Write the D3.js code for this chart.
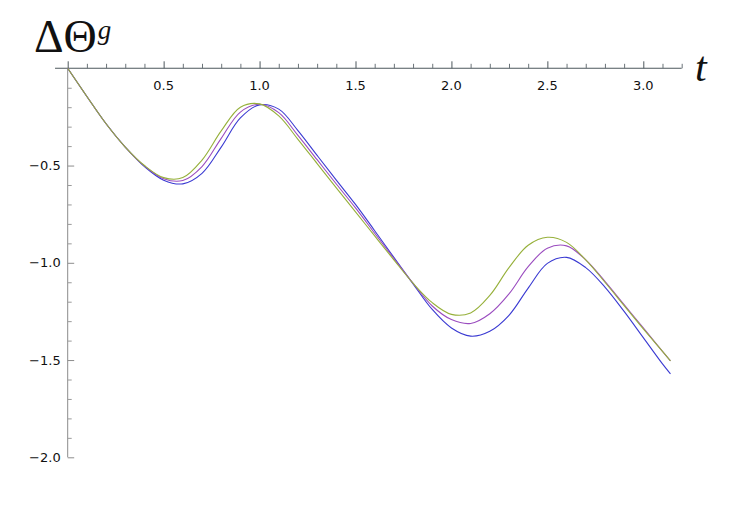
<!DOCTYPE html>
<html>
<head>
<meta charset="utf-8">
<script src="https://cdn.jsdelivr.net/npm/d3@7"></script>
<style>
  html, body { margin: 0; padding: 0; background: #ffffff; }
  svg { display: block; }
  .tick-label { font-family: "DejaVu Sans", sans-serif; font-size: 13px; fill: #111; }
</style>
</head>
<body>
<svg id="chart" width="750" height="520"></svg>
<script>
// ---- data ----
const tValues = [0, 0.1, 0.2, 0.3, 0.4, 0.5, 0.6, 0.7, 0.8, 0.9, 1.0, 1.1, 1.2, 1.3, 1.4, 1.5,
  1.6, 1.7, 1.8, 1.9, 2.0, 2.1, 2.2, 2.3, 2.4, 2.5, 2.6, 2.7, 2.8, 2.9, 3.0, 3.1, Math.PI];
const greenSeries = [0, -0.145, -0.285, -0.405, -0.500, -0.562, -0.562, -0.472, -0.322, -0.200, -0.183,
  -0.245, -0.365, -0.490, -0.615, -0.738, -0.862, -0.985, -1.105, -1.205, -1.265, -1.258, -1.168,
  -1.025, -0.910, -0.869, -0.895, -0.985, -1.100, -1.220, -1.340, -1.455, -1.504];
const purpleSeries = [0, -0.145, -0.285, -0.405, -0.502, -0.568, -0.577, -0.505, -0.360, -0.225, -0.185,
  -0.228, -0.345, -0.470, -0.595, -0.718, -0.848, -0.978, -1.105, -1.222, -1.292, -1.312, -1.262,
  -1.160, -1.020, -0.925, -0.913, -0.985, -1.095, -1.215, -1.335, -1.455, -1.504];
const blueSeries = [0, -0.145, -0.285, -0.405, -0.505, -0.575, -0.594, -0.540, -0.405, -0.255, -0.188,
  -0.210, -0.320, -0.448, -0.575, -0.700, -0.835, -0.972, -1.108, -1.240, -1.335, -1.377, -1.352,
  -1.270, -1.130, -1.003, -0.972, -1.025, -1.125, -1.250, -1.385, -1.520, -1.571];
const seriesColors = ["#3a3ad2", "#9a4cbf", "#96b03a"];
const xMajorTicks = [0.5, 1.0, 1.5, 2.0, 2.5, 3.0];
const yMajorTicks = [-0.5, -1.0, -1.5, -2.0];

// ---- scales ----
const svg = d3.select("#chart");
const x = d3.scaleLinear().domain([0, 3]).range([67.7, 643.3]);
const y = d3.scaleLinear().domain([0, -2]).range([68.3, 457.3]);

const fmt = d => d3.format(".1f")(d).replace("-", "\u2212");

// ---- y axis ----
const yAxisG = svg.append("g").attr("transform", `translate(${x(0)},0)`);
yAxisG.append("line")
  .attr("x1", 0).attr("x2", 0).attr("y1", y(0)).attr("y2", y(-2))
  .attr("stroke", "#8c8c8c").attr("stroke-width", 1);
const yMinor = d3.range(1, 21).map(i => -i / 10).filter(v => Math.abs(v * 2 - Math.round(v * 2)) > 1e-6);
yAxisG.append("g").call(d3.axisLeft(y).tickValues(yMinor).tickSize(-4).tickFormat(""))
  .call(g => g.select(".domain").remove())
  .call(g => g.selectAll("line").attr("stroke", "#9a9a9a"));
yAxisG.append("g").call(d3.axisLeft(y).tickValues(yMajorTicks).tickSize(-6.5).tickFormat(""))
  .call(g => g.select(".domain").remove())
  .call(g => g.selectAll("line").attr("stroke", "#8c8c8c"));
svg.append("g").selectAll("text").data(yMajorTicks).join("text")
  .attr("class", "tick-label")
  .attr("x", x(0) - 7)
  .attr("y", d => y(d))
  .attr("dy", "0.36em")
  .attr("text-anchor", "end")
  .text(fmt);

// ---- x axis ----
const xAxisG = svg.append("g").attr("transform", `translate(0,${y(0)})`);
xAxisG.append("line")
  .attr("x1", x(-0.066)).attr("x2", x(3.2)).attr("y1", 0).attr("y2", 0)
  .attr("stroke", "#4d575c").attr("stroke-width", 1.1);
const xMinor = d3.range(1, 33).map(i => i / 10).filter(v => Math.abs(v * 2 - Math.round(v * 2)) > 1e-6);
xAxisG.append("g").call(d3.axisBottom(x).tickValues(xMinor).tickSize(-4.5).tickFormat(""))
  .call(g => g.select(".domain").remove())
  .call(g => g.selectAll("line").attr("stroke", "#6a7378"));
xAxisG.append("g").call(d3.axisBottom(x).tickValues([0].concat(xMajorTicks)).tickSize(-7).tickFormat(""))
  .call(g => g.select(".domain").remove())
  .call(g => g.selectAll("line").attr("stroke", "#4d575c"));
svg.append("g").selectAll("text").data(xMajorTicks).join("text")
  .attr("class", "tick-label")
  .attr("x", d => x(d))
  .attr("y", y(0) + 21.3)
  .attr("text-anchor", "middle")
  .text(fmt);

// ---- curves ----
const line = d3.line()
  .x(d => x(d[0]))
  .y(d => y(d[1]))
  .curve(d3.curveCatmullRom.alpha(0.5));
[blueSeries, purpleSeries, greenSeries].forEach((s, i) => {
  svg.append("path")
    .datum(tValues.map((t, j) => [t, s[j]]))
    .attr("fill", "none")
    .attr("stroke", seriesColors[i])
    .attr("stroke-width", 1.1)
    .attr("d", line);
});

// ---- axis labels ----
const yLab = svg.append("text")
  .attr("x", 34).attr("y", 52)
  .attr("font-family", "Liberation Serif, serif")
  .attr("font-size", 46)
  .attr("fill", "#111");
yLab.append("tspan").text("\u0394\u0398");
yLab.append("tspan").attr("font-style", "italic").attr("font-size", 27).attr("dy", -13).attr("dx", 1).text("g");

svg.append("text")
  .attr("x", 695).attr("y", 81)
  .attr("font-family", "Liberation Serif, serif")
  .attr("font-style", "italic")
  .attr("font-size", 42)
  .attr("fill", "#111")
  .text("t");
</script>
</body>
</html>
